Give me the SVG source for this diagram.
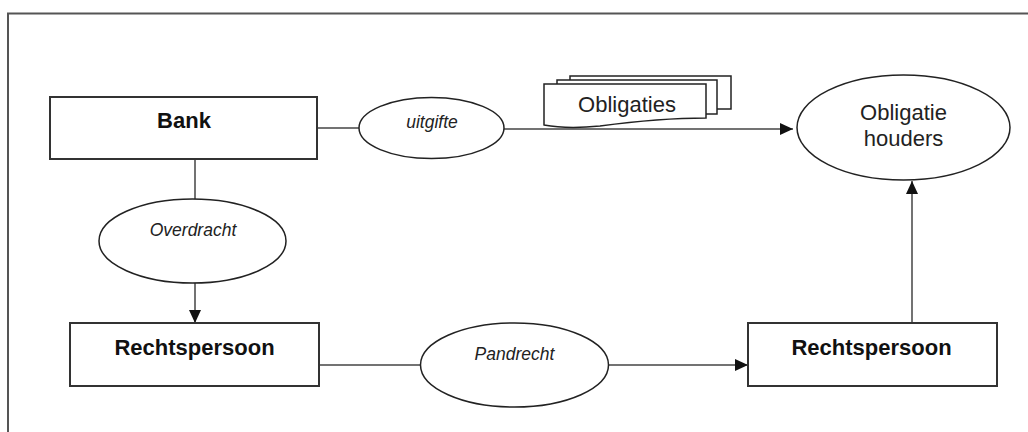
<svg xmlns="http://www.w3.org/2000/svg" width="1028" height="432" viewBox="0 0 1028 432">
<defs>
<style>
.box{fill:#fff;stroke:#333;stroke-width:2}
.ell{fill:#fff;stroke:#222;stroke-width:1.5}
.doc{fill:#fff;stroke:#222;stroke-width:1.5}
.ln{fill:none;stroke:#444;stroke-width:1.5}
.bold{font-family:"Liberation Sans",Arial,sans-serif;font-weight:bold;font-size:22px;fill:#111;text-anchor:middle}
.it{font-family:"Liberation Sans",Arial,sans-serif;font-style:italic;font-size:17.5px;fill:#222;text-anchor:middle}
.reg{font-family:"Liberation Sans",Arial,sans-serif;font-size:22px;fill:#222;text-anchor:middle}
</style>
<marker id="ah" markerWidth="14" markerHeight="12" refX="13" refY="6" orient="auto" markerUnits="userSpaceOnUse">
<path d="M0,0 L13,6 L0,12 Z" fill="#111"/>
</marker>
</defs>
<rect width="1028" height="432" fill="#fff"/>
<path d="M8,432 V13.5 H1028" fill="none" stroke="#555" stroke-width="2"/>
<g id="connectors">
<line class="ln" x1="317" y1="128" x2="359" y2="128"/>
<line class="ln" x1="504" y1="129" x2="793" y2="129" marker-end="url(#ah)"/>
<line class="ln" x1="195" y1="159" x2="195" y2="199"/>
<line class="ln" x1="195" y1="283" x2="195" y2="323" marker-end="url(#ah)"/>
<line class="ln" x1="319" y1="365" x2="421" y2="365"/>
<line class="ln" x1="607" y1="365" x2="748" y2="365" marker-end="url(#ah)"/>
<line class="ln" x1="912" y1="323" x2="912" y2="181" marker-end="url(#ah)"/>
</g>
<g id="bank">
<rect class="box" x="50" y="97" width="267" height="62"/>
<text class="bold" x="184" y="128">Bank</text>
</g>
<g id="uitgifte">
<ellipse class="ell" cx="431.5" cy="128" rx="72.5" ry="30.5"/>
<text class="it" x="432" y="128">uitgifte</text>
</g>
<g id="obligaties">
<rect class="doc" x="570" y="76" width="161" height="33"/>
<rect class="doc" x="557" y="80" width="160" height="34"/>
<path class="doc" d="M544,84 H706 V118 C670,118 630,122 600,126 C580,128 560,128 544,125 Z"/>
<text class="reg" x="627" y="112">Obligaties</text>
</g>
<g id="obligatiehouders">
<ellipse class="ell" cx="903.5" cy="127.5" rx="106.5" ry="52.5"/>
<text class="reg" x="903.5" y="120">Obligatie</text>
<text class="reg" x="903.5" y="146">houders</text>
</g>
<g id="overdracht">
<ellipse class="ell" cx="192.5" cy="241" rx="93.5" ry="42"/>
<text class="it" x="193" y="236">Overdracht</text>
</g>
<g id="rechtspersoon1">
<rect class="box" x="70" y="323" width="249" height="63"/>
<text class="bold" x="194.5" y="355">Rechtspersoon</text>
</g>
<g id="pandrecht">
<ellipse class="ell" cx="514.5" cy="365" rx="94" ry="42"/>
<text class="it" x="514.5" y="360">Pandrecht</text>
</g>
<g id="rechtspersoon2">
<rect class="box" x="748" y="323" width="249" height="63"/>
<text class="bold" x="871.5" y="355">Rechtspersoon</text>
</g>
</svg>
